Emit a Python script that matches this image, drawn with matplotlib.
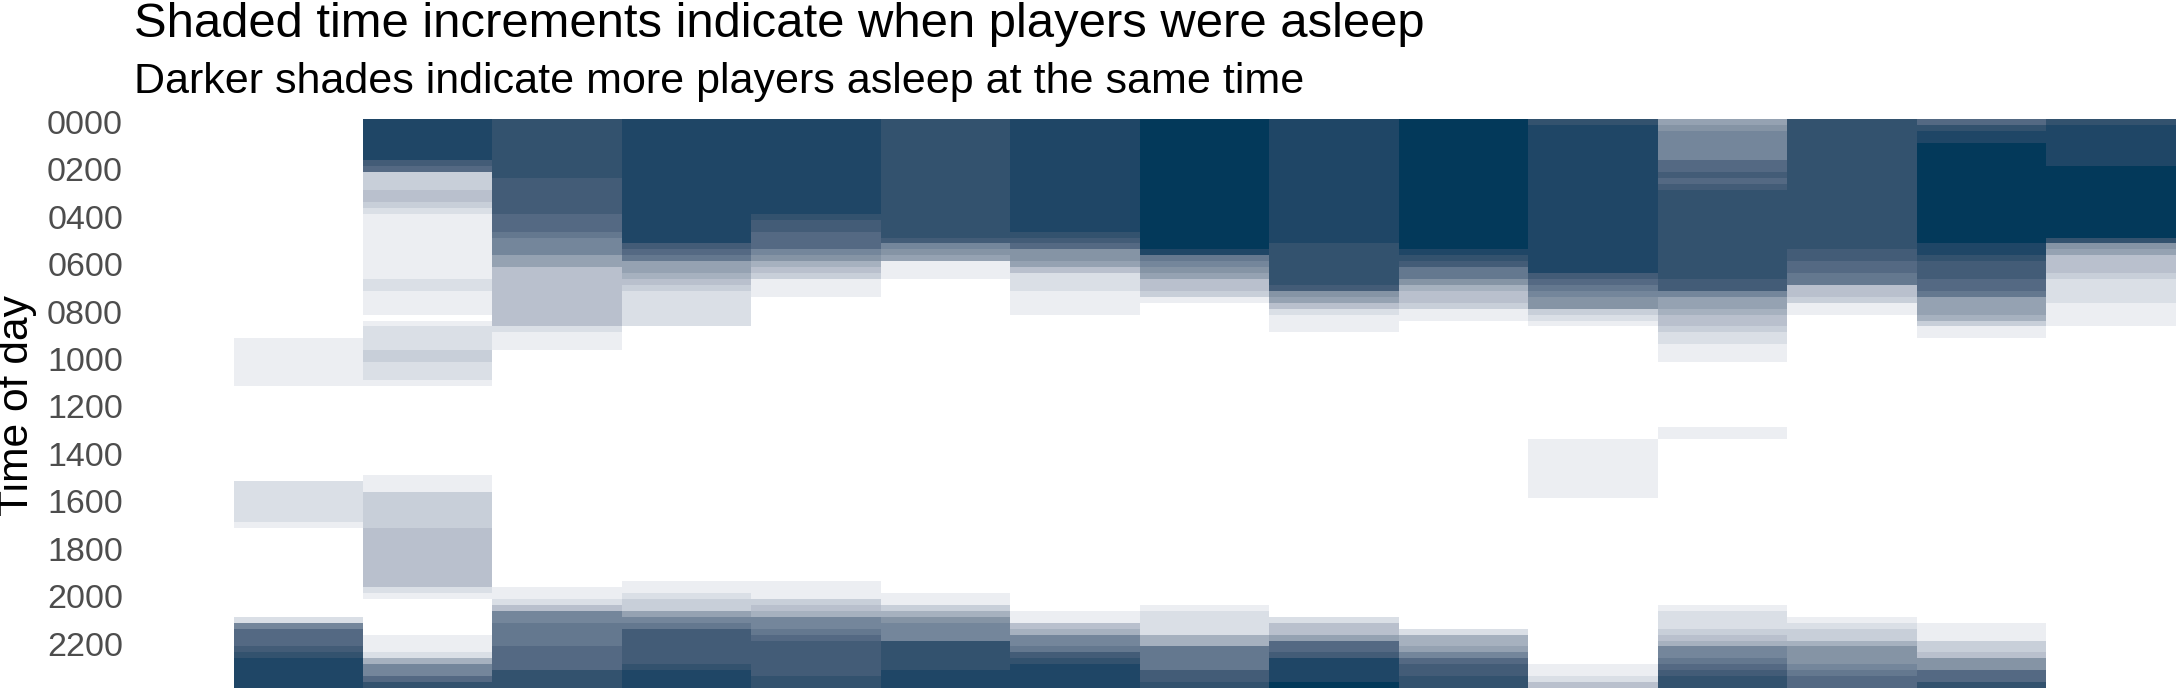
#!/usr/bin/env python3
"""
Sleep heatmap: shaded 15-minute increments when players were asleep,
one column per night, darker = more players asleep at once.
"""

import numpy as np
import matplotlib
matplotlib.use('Agg')
import matplotlib.pyplot as plt
from matplotlib.colors import ListedColormap, BoundaryNorm

plt.rcParams['font.family'] = ['Liberation Sans', 'DejaVu Sans']

# ── DATA ──────────────────────────────────────────────────────────────────────
# each night: (start, end, players asleep), times as HHMM, end exclusive
night_01 = [("0915", "1115", 1), ("1515", "1700", 2), ("1700", "1715", 1),
            ("2100", "2115", 2), ("2115", "2130", 8), ("2130", "2215", 10),
            ("2215", "2230", 11), ("2230", "2245", 12), ("2245", "2400", 13)]
night_02 = [("0000", "0145", 13), ("0145", "0200", 11), ("0200", "0215", 10),
            ("0215", "0300", 3), ("0300", "0330", 4), ("0330", "0345", 3),
            ("0345", "0400", 2), ("0400", "0645", 1), ("0645", "0715", 2),
            ("0715", "0815", 1), ("0830", "0845", 1), ("0845", "0945", 2),
            ("0945", "1015", 3), ("1015", "1100", 2), ("1100", "1115", 1),
            ("1500", "1545", 1), ("1545", "1715", 3), ("1715", "1945", 4),
            ("1945", "2000", 2), ("2000", "2015", 1), ("2145", "2230", 1),
            ("2230", "2245", 2), ("2245", "2300", 5), ("2300", "2330", 8),
            ("2330", "2345", 10), ("2345", "2400", 12)]
night_03 = [("0000", "0230", 12), ("0230", "0400", 11), ("0400", "0445", 10),
            ("0445", "0500", 9), ("0500", "0545", 8), ("0545", "0615", 6),
            ("0615", "0845", 4), ("0845", "0900", 2), ("0900", "0945", 1),
            ("1945", "2015", 1), ("2015", "2030", 2), ("2030", "2045", 4),
            ("2045", "2115", 8), ("2115", "2215", 9), ("2215", "2315", 10),
            ("2315", "2400", 12)]
night_04 = [("0000", "0515", 13), ("0515", "0530", 11), ("0530", "0545", 10),
            ("0545", "0600", 9), ("0600", "0630", 6), ("0630", "0645", 5),
            ("0645", "0700", 4), ("0700", "0715", 3), ("0715", "0845", 2),
            ("1930", "2000", 1), ("2000", "2015", 2), ("2015", "2045", 3),
            ("2045", "2100", 6), ("2100", "2115", 8), ("2115", "2130", 9),
            ("2130", "2300", 11), ("2300", "2315", 12), ("2315", "2400", 13)]
night_05 = [("0000", "0400", 13), ("0400", "0415", 12), ("0415", "0445", 11),
            ("0445", "0530", 10), ("0530", "0545", 8), ("0545", "0600", 7),
            ("0600", "0615", 5), ("0615", "0630", 4), ("0630", "0645", 3),
            ("0645", "0730", 1), ("1930", "2015", 1), ("2015", "2030", 3),
            ("2030", "2045", 4), ("2045", "2100", 5), ("2100", "2130", 8),
            ("2130", "2145", 9), ("2145", "2200", 10), ("2200", "2330", 11),
            ("2330", "2400", 12)]
night_06 = [("0000", "0500", 12), ("0500", "0515", 11), ("0515", "0530", 8),
            ("0530", "0545", 7), ("0545", "0600", 6), ("0600", "0645", 1),
            ("2000", "2030", 1), ("2030", "2045", 3), ("2045", "2100", 5),
            ("2100", "2115", 7), ("2115", "2200", 8), ("2200", "2315", 12),
            ("2315", "2400", 13)]
night_07 = [("0000", "0445", 13), ("0445", "0500", 12), ("0500", "0515", 11),
            ("0515", "0530", 10), ("0530", "0600", 7), ("0600", "0615", 6),
            ("0615", "0630", 4), ("0630", "0715", 2), ("0715", "0815", 1),
            ("2045", "2115", 1), ("2115", "2130", 4), ("2130", "2145", 5),
            ("2145", "2215", 8), ("2215", "2230", 9), ("2230", "2245", 11),
            ("2245", "2300", 12), ("2300", "2400", 13)]
night_08 = [("0000", "0530", 14), ("0530", "0545", 13), ("0545", "0600", 9),
            ("0600", "0615", 8), ("0615", "0630", 7), ("0630", "0645", 6),
            ("0645", "0715", 4), ("0715", "0730", 3), ("0730", "0745", 1),
            ("2030", "2045", 1), ("2045", "2145", 2), ("2145", "2215", 5),
            ("2215", "2315", 9), ("2315", "2345", 11), ("2345", "2400", 12)]
night_09 = [("0000", "0515", 13), ("0515", "0700", 12), ("0700", "0715", 11),
            ("0715", "0730", 7), ("0730", "0745", 6), ("0745", "0800", 4),
            ("0800", "0815", 2), ("0815", "0900", 1), ("2100", "2115", 2),
            ("2115", "2145", 4), ("2145", "2200", 6), ("2200", "2230", 10),
            ("2230", "2245", 11), ("2245", "2345", 13), ("2345", "2400", 14)]
night_10 = [("0000", "0530", 14), ("0530", "0545", 13), ("0545", "0600", 12),
            ("0600", "0615", 11), ("0615", "0645", 9), ("0645", "0700", 7),
            ("0700", "0715", 5), ("0715", "0745", 4), ("0745", "0800", 3),
            ("0800", "0830", 1), ("2130", "2145", 2), ("2145", "2215", 5),
            ("2215", "2230", 6), ("2230", "2245", 8), ("2245", "2300", 10),
            ("2300", "2330", 11), ("2330", "2400", 12)]
night_11 = [("0000", "0015", 12), ("0015", "0630", 13), ("0630", "0645", 11),
            ("0645", "0700", 10), ("0700", "0715", 9), ("0715", "0730", 8),
            ("0730", "0800", 7), ("0800", "0815", 3), ("0815", "0830", 2),
            ("0830", "0845", 1), ("1330", "1600", 1), ("2300", "2330", 1),
            ("2330", "2345", 2), ("2345", "2400", 4)]
night_12 = [("0000", "0015", 6), ("0015", "0030", 7), ("0030", "0145", 8),
            ("0145", "0215", 10), ("0215", "0230", 11), ("0230", "0245", 10),
            ("0245", "0300", 11), ("0300", "0645", 12), ("0645", "0715", 11),
            ("0715", "0730", 8), ("0730", "0800", 6), ("0800", "0815", 5),
            ("0815", "0845", 4), ("0845", "0900", 3), ("0900", "0930", 2),
            ("0930", "1015", 1), ("1300", "1330", 1), ("2030", "2045", 1),
            ("2045", "2130", 2), ("2130", "2145", 3), ("2145", "2200", 4),
            ("2200", "2215", 5), ("2215", "2245", 8), ("2245", "2300", 9),
            ("2300", "2315", 10), ("2315", "2330", 11), ("2330", "2400", 12)]
night_13 = [("0000", "0530", 12), ("0530", "0600", 11), ("0600", "0630", 10),
            ("0630", "0700", 9), ("0700", "0730", 4), ("0730", "0745", 3),
            ("0745", "0815", 1), ("2100", "2115", 1), ("2115", "2130", 2),
            ("2130", "2200", 3), ("2200", "2215", 5), ("2215", "2300", 7),
            ("2300", "2315", 8), ("2315", "2330", 9), ("2330", "2400", 10)]
night_14 = [("0000", "0015", 10), ("0015", "0030", 12), ("0030", "0100", 13),
            ("0100", "0515", 14), ("0515", "0545", 13), ("0545", "0600", 12),
            ("0600", "0645", 11), ("0645", "0715", 10), ("0715", "0730", 9),
            ("0730", "0815", 6), ("0815", "0830", 5), ("0830", "0845", 3),
            ("0845", "0915", 1), ("2115", "2200", 1), ("2200", "2230", 3),
            ("2230", "2245", 4), ("2245", "2315", 7), ("2315", "2345", 10),
            ("2345", "2400", 12)]
night_15 = [("0000", "0015", 12), ("0015", "0200", 13), ("0200", "0500", 14),
            ("0500", "0515", 12), ("0515", "0530", 7), ("0530", "0545", 6),
            ("0545", "0630", 4), ("0630", "0645", 3), ("0645", "0745", 2),
            ("0745", "0845", 1)]

NIGHTS = [night_01, night_02, night_03, night_04, night_05, night_06, night_07,
          night_08, night_09, night_10, night_11, night_12, night_13, night_14,
          night_15]

TIME_LABELS = ["0000", "0200", "0400", "0600", "0800", "1000",
               "1200", "1400", "1600", "1800", "2000", "2200"]

# one shade per number of players asleep (1..14)
SHADES = ["#ECEEF2", "#DADFE6", "#C8CFD9", "#B9C0CD", "#A6B1BF", "#95A2B2",
          "#8594A5", "#74869B", "#64788F", "#546983", "#435C77", "#33526E",
          "#1F4666", "#03395A"]

TITLE = "Shaded time increments indicate when players were asleep"
SUBTITLE = "Darker shades indicate more players asleep at the same time"

W, H = 2178, 688
N_SLOTS = 96   # 15-minute increments per day


def slot(hhmm):
    """HHMM string -> 15-minute slot index."""
    return int(hhmm[:2]) * 4 + int(hhmm[2:]) // 15


# ── BUILD GRID ────────────────────────────────────────────────────────────────
grid = np.zeros((N_SLOTS, len(NIGHTS)))
for col, runs in enumerate(NIGHTS):
    for start, end, n in runs:
        grid[slot(start):slot(end), col] = n

cmap = ListedColormap(["#FFFFFF"] + SHADES)
norm = BoundaryNorm(np.arange(-0.5, len(SHADES) + 1.5, 1), cmap.N)

# ── PLOT ──────────────────────────────────────────────────────────────────────
fig = plt.figure(figsize=(W / 100, H / 100), dpi=100)
left_px, right_px, top_px = 130, 2176, 119
ax = fig.add_axes([left_px / W, 0, (right_px - left_px) / W, (H - top_px) / H])

n_cols = len(NIGHTS)
ax.imshow(grid, cmap=cmap, norm=norm, aspect="auto", interpolation="nearest",
          extent=(0.5, n_cols + 0.5, N_SLOTS - 0.5, -0.5))

col_px = (right_px - 234) / n_cols
ax.set_xlim(0.5 - (234 - left_px) / col_px, n_cols + 0.5)
ax.set_ylim(N_SLOTS - 0.5, -0.5)

ax.set_yticks(np.arange(0, N_SLOTS, 8))
ax.set_yticklabels(TIME_LABELS)
ax.set_xticks([])
ax.tick_params(axis="y", length=0, pad=5, labelsize=24.5, labelcolor="#4D4D4D")
for s in ax.spines.values():
    s.set_visible(False)

fig.text(134 / W, 1 - 37 / H, TITLE, fontsize=35.3, va="baseline", ha="left")
fig.text(134 / W, 1 - 93 / H, SUBTITLE, fontsize=31, va="baseline", ha="left")
fig.text(17 / W, 1 - 405 / H, "Time of day", fontsize=30.7, rotation=90,
         ha="center", va="center")

fig.savefig("out.png", dpi=100)
